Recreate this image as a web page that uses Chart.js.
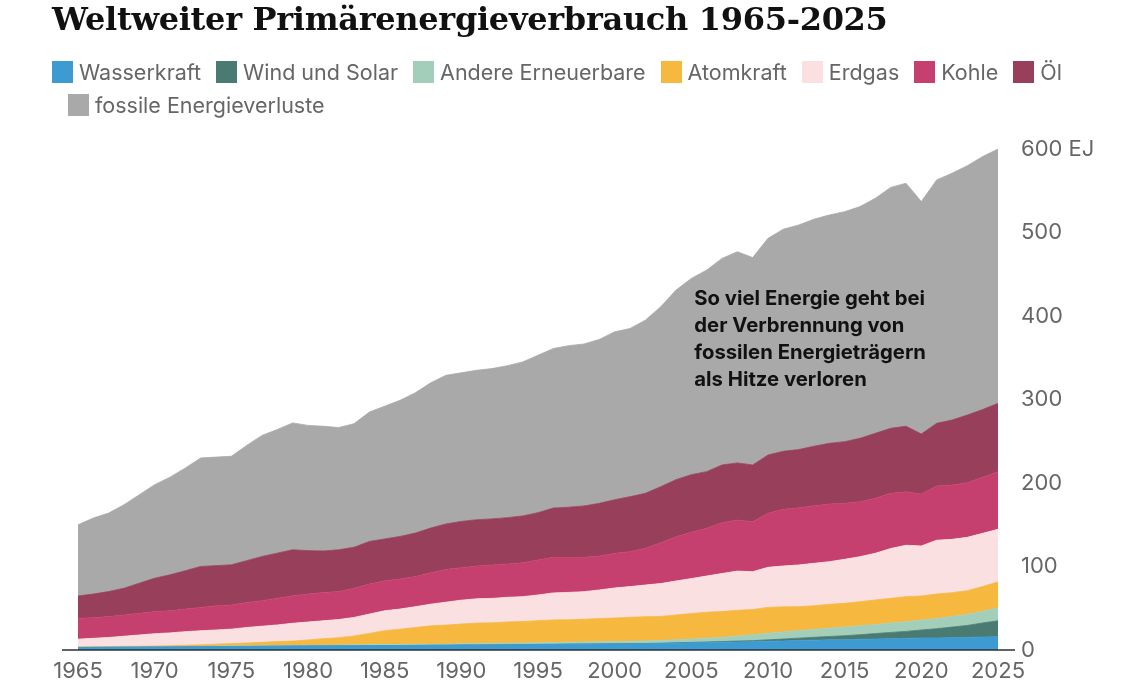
<!DOCTYPE html>
<html>
<head>
<meta charset="utf-8">
<script src="https://cdn.jsdelivr.net/npm/chart.js@4"></script>
<style>
  html, body { margin: 0; padding: 0; background: #fff; }
  body { width: 1133px; height: 697px; position: relative; overflow: hidden; font-family: Inter, "Liberation Sans", sans-serif; }
  #title { position: absolute; left: 52px; top: -1px; font-family: "DejaVu Serif", serif; font-weight: bold; font-size: 32px; line-height: 40px; color: #111; white-space: nowrap; letter-spacing: -0.3px; }
  .row { position: absolute; display: flex; align-items: center; white-space: nowrap; }
  #row1 { left: 52px; top: 59px; }
  #row2 { left: 68px; top: 92px; }
  .item { display: flex; align-items: center; margin-right: 15px; font-size: 21.5px; color: #666; }
  .sw { width: 21px; height: 22px; margin-right: 6px; }
  #wrap { position: absolute; left: 0; top: 0; width: 1133px; height: 697px; }
</style>
</head>
<body>
<div id="wrap"><canvas id="myChart" width="1133" height="697"></canvas></div>
<div id="title">Weltweiter Primärenergieverbrauch 1965-2025</div>
<div class="row" id="row1"></div>
<div class="row" id="row2"></div>
<script>
const years = ['1965','1966','1967','1968','1969','1970','1971','1972','1973','1974',
  '1975','1976','1977','1978','1979','1980','1981','1982','1983','1984',
  '1985','1986','1987','1988','1989','1990','1991','1992','1993','1994',
  '1995','1996','1997','1998','1999','2000','2001','2002','2003','2004',
  '2005','2006','2007','2008','2009','2010','2011','2012','2013','2014',
  '2015','2016','2017','2018','2019','2020','2021','2022','2023','2024','2025']

// EJ pro Jahr, von unten nach oben gestapelt
const wasserkraft = [3.0,3.1,3.2,3.3,3.4,3.5,3.6,3.8,3.9,4.1,
  4.2,4.3,4.4,4.6,4.7,4.8,4.9,5.0,5.1,5.2,
  5.3,5.4,5.5,5.6,5.7,5.9,6.0,6.1,6.3,6.4,
  6.6,6.7,6.9,7.0,7.1,7.3,7.3,7.5,7.7,8.2,
  8.6,9.0,9.3,9.7,9.9,10.5,10.9,11.4,11.8,12.2,
  12.4,12.8,13.2,13.6,13.9,14.4,14.5,14.8,15.0,15.6,16.0]
const windSolar = [0,0,0,0,0,0,0,0,0,0,
  0,0,0,0,0,0,0,0,0,0,
  0,0,0,0,0,0.1,0.1,0.1,0.1,0.1,
  0.1,0.1,0.2,0.2,0.2,0.2,0.3,0.3,0.4,0.5,
  0.5,0.6,0.8,1.0,1.3,1.7,2.2,2.8,3.4,4.0,
  4.7,5.5,6.5,7.4,8.4,9.6,11.0,12.6,14.4,16.8,19.0]
const andere = [0.5,0.5,0.5,0.6,0.6,0.6,0.7,0.7,0.7,0.8,
  0.8,0.8,0.9,0.9,1.0,1.0,1.1,1.1,1.2,1.2,
  1.3,1.3,1.4,1.5,1.5,1.6,1.7,1.8,1.9,2.0,
  2.1,2.2,2.3,2.4,2.5,2.6,2.8,3.0,3.3,3.6,
  4.0,4.5,5.0,6.0,7.0,8.0,8.6,9.1,9.5,9.9,
  10.3,10.6,10.9,11.2,11.5,11.8,12.1,12.6,13.2,14.0,15.5]
const atomkraft = [0.2,0.2,0.3,0.4,0.5,0.6,0.9,1.2,1.6,2.1,
  2.7,3.2,3.9,4.6,5.0,6.2,7.6,8.6,10.5,13.5,
  16.5,18.3,20.0,21.8,22.6,23.5,24.4,24.5,25.3,25.6,
  26.3,27.0,26.8,27.2,27.9,28.2,28.8,29.1,28.7,29.7,
  30.5,31.2,31.0,30.8,30.3,30.8,30.0,28.6,28.3,28.6,
  28.5,29.0,29.3,29.7,30.1,28.9,29.4,28.7,28.4,29.6,31.0]
const erdgas = [9.3,10.2,11.0,12.2,13.5,14.8,15.3,16.3,16.8,17.0,
  17.3,18.7,19.3,19.9,21.3,21.5,21.4,21.8,22.2,23.1,
  23.9,24.0,25.0,26.0,27.5,28.6,29.1,29.3,29.5,29.8,
  30.8,32.4,32.8,33.1,34.2,36.0,36.7,37.9,39.5,40.6,
  41.9,43.3,45.5,47.0,45.3,48.0,48.9,49.9,50.8,51.1,
  52.7,53.9,55.9,59.6,61.5,59.9,64.5,63.8,63.9,63.7,63.0]
const kohle = [25,24.7,25,25.5,26,26.5,26.5,27,28,29,
  29,30,30.5,32,33,33.5,34,33.5,35,36,
  36,36,36.1,37.7,39.3,38.9,39.3,40.0,39.9,40.7,
  41.9,42.6,41.6,41.1,40.7,41.5,41.9,44.0,48.9,53.1,
  55.5,57.1,60.9,61.2,59.9,64.7,67.9,68.6,69.0,69.1,
  67.1,65.8,65.8,66.1,64.2,62.2,64.9,65.1,65.5,67.1,69.1]
const oel = [26.7,28.3,30,32,36,40,43,46,49,48,
  48,50,53,54,55,52,49.6,50,49,51,
  50,51,52,53.4,54.4,55.4,55.4,55.2,55.5,55.9,
  56.7,59,60.4,61.5,63,64.2,65.8,65.8,67.1,68.3,
  69,67.9,69.1,68.3,67.9,69.8,69.5,69.6,71.2,72.6,
  73.8,75.9,77.9,77.9,78.4,71.9,75.1,77.8,81,81.2,81.8]
const verluste = [85.3,91,94,100,106,112,117,123,130,130,
  130,138,145,148,152,150,149.4,146.4,148,155,
  159,163,168,174,178,178,179,180,182,184.5,
  188.5,191,193.5,194,196.4,201,201.4,207.4,215.4,227,
  235,241.4,247.4,253,248.4,259.5,266,269,272,273.5,
  275.5,277.5,281.5,288.5,291,278.3,291.5,295.6,298.6,303,304.6]

const names = ['Wasserkraft','Wind und Solar','Andere Erneuerbare','Atomkraft','Erdgas','Kohle','Öl','fossile Energieverluste']
const colors = ['#3e9bd2','#4a7b72','#a3cfba','#f7b840','#fae0e1','#c6406f','#973f5b','#a9a9a9']
const series = [wasserkraft, windSolar, andere, atomkraft, erdgas, kohle, oel, verluste]

const yTicks = [0,100,200,300,400,500,600]
const note = ['So viel Energie geht bei','der Verbrennung von','fossilen Energieträgern','als Hitze verloren']

// Legende als HTML
names.forEach(function(n, i){
  const it = document.createElement('div')
  it.className = 'item'
  const sw = document.createElement('div')
  sw.className = 'sw'
  sw.style.background = colors[i]
  const tx = document.createElement('span')
  tx.innerHTML = n
  it.appendChild(sw)
  it.appendChild(tx)
  document.getElementById(i < 7 ? 'row1' : 'row2').appendChild(it)
})

const baseLine = {
  id: 'baseLine',
  afterDatasetsDraw(chart) {
    const c = chart.ctx
    const y = chart.scales.y.getPixelForValue(0)
    c.save()
    c.strokeStyle = '#2b2f33'
    c.lineWidth = 1.5
    c.beginPath()
    c.moveTo(chart.chartArea.left - 16, y)
    c.lineTo(chart.chartArea.right + 17, y)
    c.stroke()
    c.restore()
  }
}

const noteText = {
  id: 'noteText',
  afterDatasetsDraw(chart) {
    const c = chart.ctx
    const x = chart.scales.x.getPixelForValue(years.indexOf('2005')) + 3
    const y0 = chart.scales.y.getPixelForValue(413)
    c.save()
    c.fillStyle = '#111'
    c.font = 'bold 20.3px Inter, "Liberation Sans", sans-serif'
    c.textBaseline = 'alphabetic'
    note.forEach(function(l, i){ c.fillText(l, x, y0 + i * 27) })
    c.restore()
  }
}

const ctx = document.getElementById('myChart')
new Chart(ctx, {
  type: 'line',
  data: {
    labels: years,
    datasets: series.map(function(d, i){
      return {
        label: names[i],
        data: d,
        backgroundColor: colors[i],
        borderColor: colors[i],
        borderWidth: 0.8,
        pointRadius: 0,
        tension: 0,
        fill: i === 0 ? 'origin' : '-1'
      }
    })
  },
  options: {
    responsive: false,
    animation: false,
    events: [],
    layout: { padding: { left: 78, top: 149, right: 0, bottom: 0 } },
    plugins: { legend: { display: false }, tooltip: { enabled: false } },
    scales: {
      x: {
        offset: false,
        grid: { display: false },
        border: { display: false },
        ticks: {
          autoSkip: false,
          maxRotation: 0,
          padding: 0,
          color: '#666',
          font: { family: 'Inter', size: 22 },
          callback: function(v, i){ const yr = years[i]; return (+yr) % 5 === 0 ? yr : '' }
        },
        afterFit: function(s){ s.height = 47 }
      },
      y: {
        position: 'right',
        stacked: true,
        min: 0,
        max: 600,
        grid: { display: false },
        border: { display: false },
        afterBuildTicks: function(s){ s.ticks = yTicks.map(function(v){ return { value: v } }) },
        ticks: {
          padding: 15,
          color: '#666',
          font: { family: 'Inter', size: 22 },
          callback: function(v){ return v === 600 ? '600 EJ' : v }
        },
        afterFit: function(s){ s.width = 135 }
      }
    }
  },
  plugins: [baseLine, noteText]
})
</script>
</body>
</html>
